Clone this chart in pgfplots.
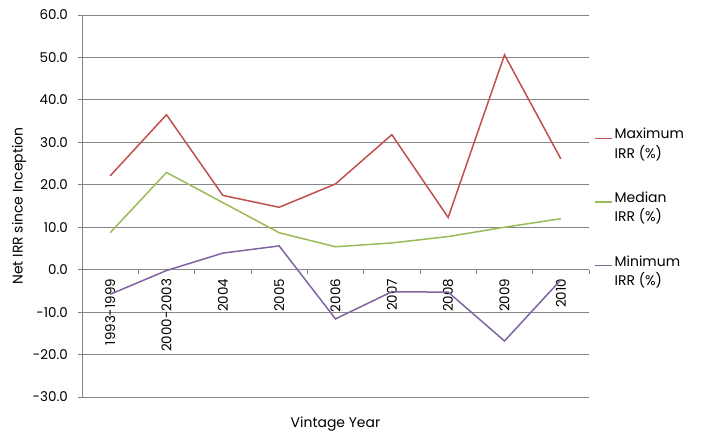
\documentclass[border=0pt]{standalone}
\usepackage{fontspec}
\setmainfont{Poppins}
\usepackage{pgfplots}
\pgfplotsset{compat=1.18}
\definecolor{maxred}{RGB}{192,80,77}
\definecolor{medgreen}{RGB}{155,187,89}
\definecolor{minpurple}{RGB}{128,100,162}
\definecolor{gridgray}{RGB}{134,134,134}

\begin{document}
\begin{tikzpicture}
  \begin{axis}[
    scale only axis,
    width=507bp,
    height=382bp,
    xmin=-0.5, xmax=8.5,
    ymin=-30, ymax=60,
    axis x line*=middle,
    axis y line*=left,
    axis line style={gridgray, line width=0.8pt},
    xtick={0,...,8},
    xticklabels={1993-1999,2000-2003,2004,2005,2006,2007,2008,2009,2010},
    major x tick style={draw=none},
    minor xtick={-0.5,0.5,...,8.5},
    minor x tick style={gridgray, line width=0.8pt},
    minor tick length=4bp,
    xticklabel style={rotate=90, anchor=east, inner sep=5bp, font=\fontsize{13.5}{16}\selectfont},
    ytick={-30,-20,...,60},
    yticklabels={-30.0,-20.0,-10.0,0.0,10.0,20.0,30.0,40.0,50.0,60.0},
    yticklabel style={font=\fontsize{13.5}{16}\selectfont, inner sep=2bp, xshift=-8bp},
    major tick length=4bp,
    tick align=outside,
    major y tick style={gridgray, line width=0.8pt},
    ymajorgrids=true,
    grid style={gridgray, line width=0.8pt},
    ylabel={Net IRR since Inception},
    ylabel style={at={(axis description cs:-0.124,0.5)}, anchor=center, font=\fontsize{14}{16}\selectfont},
    xlabel={Vintage Year},
    xlabel style={at={(axis description cs:0.5,-0.081)}, anchor=base, font=\fontsize{14}{16}\selectfont},
    legend style={at={(axis description cs:1,0.709)}, anchor=north west, xshift=5bp, draw=none, fill=none,
      font=\fontsize{14}{19.5}\selectfont, cells={align=left}, row sep=28bp, inner sep=0pt},
    legend cell align=left,
    legend image code/.code={\draw[#1] (0bp,5.5bp) -- (17bp,5.5bp);},
    every axis plot/.append style={line width=1.5bp},
  ]
    \addplot[maxred] coordinates {
      (0,22.1) (1,36.5) (2,17.5) (3,14.7) (4,20.2) (5,31.8) (6,12.3) (7,50.6) (8,26.1)
    };
    \addlegendentry{Maximum\\IRR (\%)}
    \addplot[medgreen] coordinates {
      (0,8.7) (1,22.9) (2,15.8) (3,8.7) (4,5.4) (5,6.3) (6,7.8) (7,10.0) (8,12.0)
    };
    \addlegendentry{Median\\IRR (\%)}
    \addplot[minpurple] coordinates {
      (0,-5.8) (1,-0.2) (2,3.9) (3,5.6) (4,-11.6) (5,-5.2) (6,-5.3) (7,-16.8) (8,-2.4)
    };
    \addlegendentry{Minimum\\IRR (\%)}
    \coordinate (sw) at (rel axis cs:0,0);
  \end{axis}
  \pgfresetboundingbox
  \useasboundingbox ([shift={(-82bp,-35bp)}]sw) rectangle ([shift={(619bp,397bp)}]sw);
\end{tikzpicture}
\end{document}
